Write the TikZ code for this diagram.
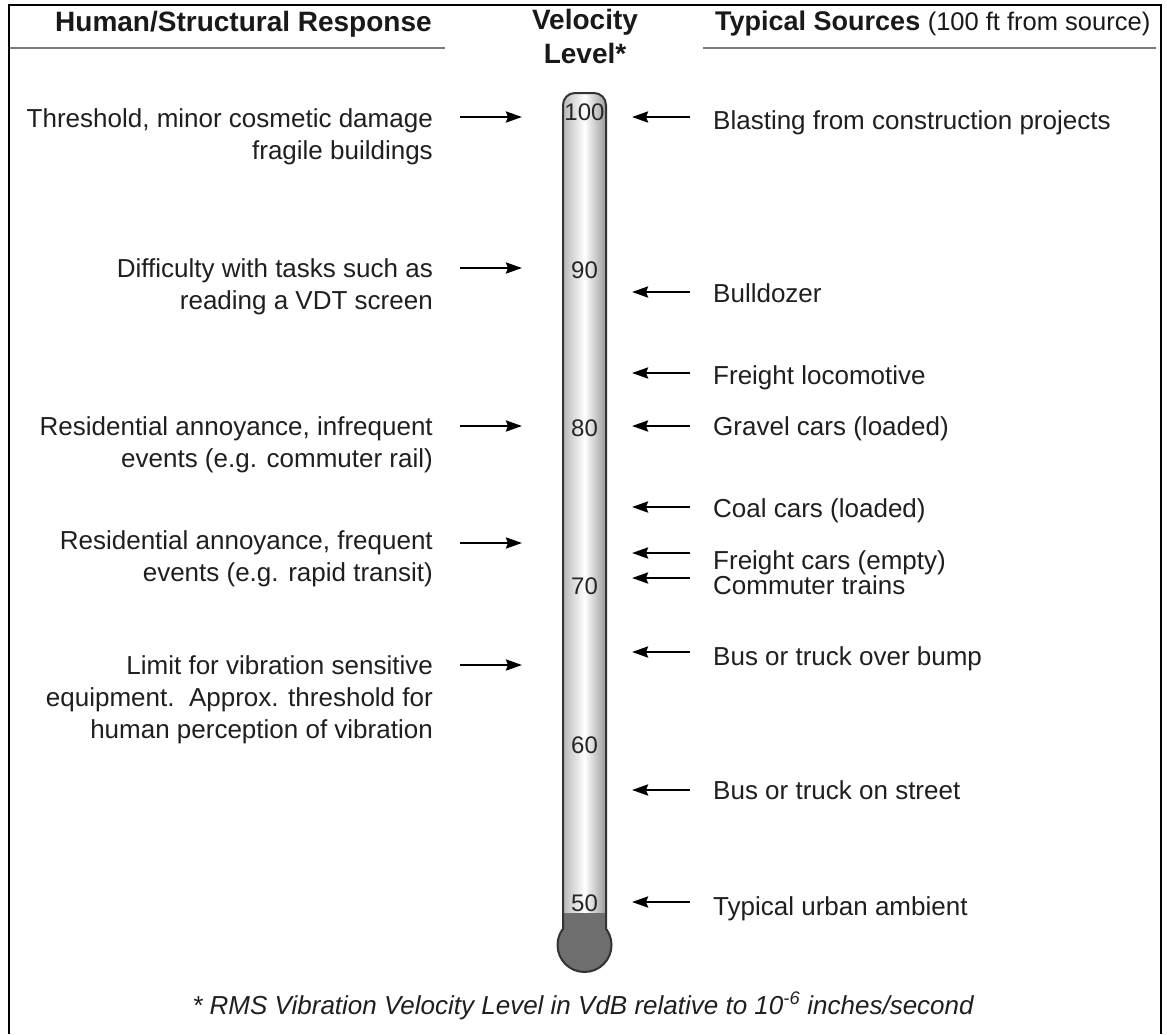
\documentclass[tikz,border=0pt]{standalone}
\usepackage{fontspec}
\setmainfont{Liberation Sans}
\usetikzlibrary{arrows.meta}
\definecolor{bulbgray}{HTML}{6E6E6E}
\definecolor{edgegray}{HTML}{333333}
\definecolor{rulegray}{HTML}{7A7A7A}
\begin{document}
\begin{tikzpicture}[x=1pt,y=-1pt,
  body/.style={inner sep=0pt, font=\fontsize{26}{32}\selectfont, text=black!88},
  lft/.style={body, anchor=base east},
  rgt/.style={body, anchor=base west},
  hdr/.style={inner sep=0pt, font=\bfseries\fontsize{28}{34}\selectfont, text=black!90},
  num/.style={inner sep=0pt, font=\fontsize{24}{28}\selectfont, text=black!85},
  arr/.style={line width=2.5pt, -{Stealth[length=16pt,width=11pt,inset=2pt]}},
  hrule/.style={line width=2.5pt, draw=rulegray}]
\useasboundingbox (0,0) rectangle (1167,1034);
\fill[white] (0,0) rectangle (1167,1034);
% frame
\draw[line width=2pt] (9,1034) -- (9,5) -- (1161,5) -- (1161,1034);

% headers
\node[hdr, anchor=base west] (h1) at (55,31) {Human/Structural Response};
\node[hdr, anchor=base] (h2a) at (585,29) {Velocity};
\node[hdr, anchor=base] (h2b) at (585,63) {Level*};
\node[hdr, anchor=base west, font=\bfseries\fontsize{27}{34}\selectfont] (h3) at (715,30) {Typical Sources {\mdseries\fontsize{25.5}{30}\selectfont (100 ft from source)}};
\coordinate (r1a) at (10,48); \coordinate (r1b) at (445,48);
\coordinate (r2a) at (703,48); \coordinate (r2b) at (1156,48);
\draw[hrule] (r1a) -- (r1b);
\draw[hrule] (r2a) -- (r2b);

% thermometer tube
\shade[left color=black!28, right color=black!40, middle color=white, rounded corners=12pt]
  (563,930) -- (563,93) -- (606,93) -- (606,930) -- cycle;
% bulb fill
\fill[bulbgray] (563,913) rectangle (606,935);
\fill[bulbgray] (584.5,945) circle[radius=27pt];
% outlines
\draw[edgegray, line width=2pt, rounded corners=12pt] (563,929.5) -- (563,93) -- (606,93) -- (606,929.5);
\begin{scope}
  \clip (540,929) rectangle (630,990);
  \draw[edgegray, line width=2pt] (584.5,945) circle[radius=27pt];
\end{scope}

% scale numbers
\node[num] (n100) at (584.5,112) {100};
\node[num] (n90) at (584.5,270) {90};
\node[num] (n80) at (584.5,428) {80};
\node[num] (n70) at (584.5,586) {70};
\node[num] (n60) at (584.5,745) {60};
\node[num] (n50) at (584.5,903) {50};

% left responses
\node[lft] (l1) at (433,127.5) {\begin{tabular}[t]{@{}r@{}}Threshold, minor cosmetic damage\\fragile buildings\end{tabular}};
\node[lft] (l2) at (433,277.5) {\begin{tabular}[t]{@{}r@{}}Difficulty with tasks such as\\reading a VDT screen\end{tabular}};
\node[lft] (l3) at (433,435.5) {\begin{tabular}[t]{@{}r@{}}Residential annoyance, infrequent\\events (e.g. commuter rail)\end{tabular}};
\node[lft] (l4) at (433,549.5) {\begin{tabular}[t]{@{}r@{}}Residential annoyance, frequent\\events (e.g. rapid transit)\end{tabular}};
\node[lft] (l5) at (433,674.5) {\begin{tabular}[t]{@{}r@{}}Limit for vibration sensitive\\equipment.\ \ Approx. threshold for\\human perception of vibration\end{tabular}};

\foreach \i/\y in {1/117,2/268,3/426,4/543,5/665}{
  \coordinate (la\i) at (460,\y);
  \coordinate (lb\i) at (522,\y);
  \draw[arr] (la\i) -- (lb\i);
}

% right sources
\node[rgt] (s1) at (713,129.5) {Blasting from construction projects};
\node[rgt] (s2) at (713,302.5) {Bulldozer};
\node[rgt] (s3) at (713,384.5) {Freight locomotive};
\node[rgt] (s4) at (713,435.5) {Gravel cars (loaded)};
\node[rgt] (s5) at (713,517.5) {Coal cars (loaded)};
\node[rgt] (s6) at (713,569.5) {Freight cars (empty)};
\node[rgt] (s7) at (713,594.5) {Commuter trains};
\node[rgt] (s8) at (713,665.5) {Bus or truck over bump};
\node[rgt] (s9) at (713,799.5) {Bus or truck on street};
\node[rgt] (s10) at (713,915.5) {Typical urban ambient};

\foreach \i/\y in {1/117,2/292,3/373,4/426,5/507,6/553,7/578,8/652,9/790,10/902}{
  \coordinate (ra\i) at (690,\y);
  \coordinate (rb\i) at (632,\y);
  \draw[arr] (ra\i) -- (rb\i);
}

% footnote
\node[inner sep=0pt, anchor=base, font=\itshape\fontsize{26}{30}\selectfont, text=black!88] (fn) at (583,1014)
  {* RMS Vibration Velocity Level in VdB relative to 10\textsuperscript{-6} inches/second};
\end{tikzpicture}
\end{document}
